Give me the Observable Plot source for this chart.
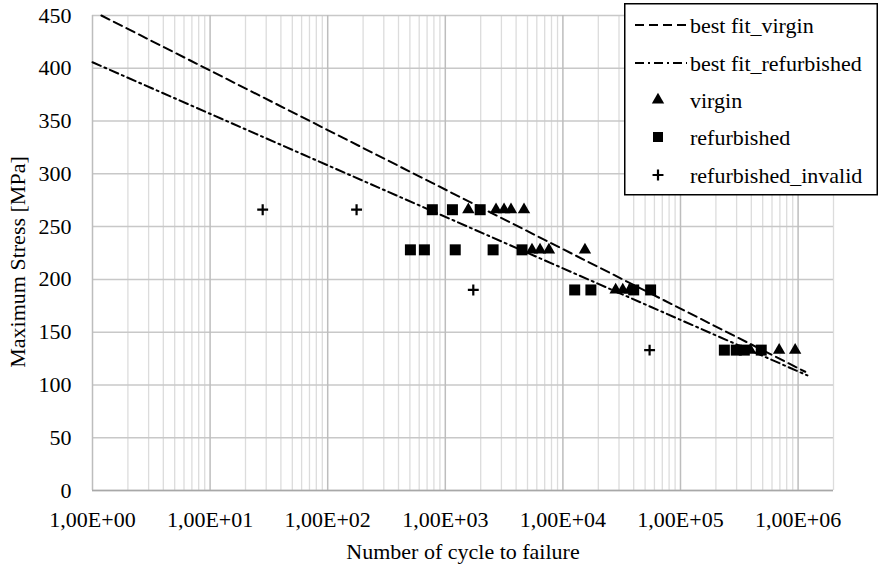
<!DOCTYPE html>
<html>
<head>
<meta charset="utf-8">
<script src="https://cdn.jsdelivr.net/npm/d3@7"></script>
<script src="https://cdn.jsdelivr.net/npm/@observablehq/plot@0.6"></script>
<style>
  html, body { margin: 0; padding: 0; background: white; }
  #wrap { position: relative; width: 878px; height: 564px; overflow: hidden; }
  #legend { position: absolute; left: 624px; top: 3px; }
</style>
</head>
<body>
<div id="wrap"></div>
<script>
// ---- data ----
const virginN = [1570, 2700, 3160, 3620, 4670, 5460, 6390, 7610, 15400, 28100, 32300, 37000, 392000, 690000, 944000];
const virginS = [266, 266, 266, 266, 266, 228, 228, 228, 228, 190, 190, 190, 133, 133, 133];

const refurbN = [776, 1150, 1980, 505, 664, 1215, 2550, 4490, 12600, 17300, 40000, 55700, 236000, 298000, 349000, 486000];
const refurbS = [266, 266, 266, 228, 228, 228, 228, 228, 190, 190, 190, 190, 133, 133, 133, 133];

const invalidN = [28, 176, 1730, 54600];
const invalidS = [266, 266, 190, 133];

// best-fit line endpoints
const fitVirginN = [1.19, 1150000];
const fitVirginS = [450, 112.5];
const fitRefurbN = [1, 1200000];
const fitRefurbS = [405.7, 109];

const xMajorTicks = [1, 10, 100, 1000, 10000, 100000, 1000000];
const xTickLabels = ["1,00E+00", "1,00E+01", "1,00E+02", "1,00E+03", "1,00E+04", "1,00E+05", "1,00E+06"];
const yTicks = [0, 50, 100, 150, 200, 250, 300, 350, 400, 450];

const seriesNames = ["best fit_virgin", "best fit_refurbished", "virgin", "refurbished", "refurbished_invalid"];

const FONT = "Liberation Serif";

// minor log gridlines
const xMinorTicks = [];
for (let k = 0; k <= 6; k++) for (let m = 2; m <= 9; m++) { const v = m * Math.pow(10, k); if (v <= 2e6) xMinorTicks.push(v); }

const zip = (xs, ys) => xs.map((x, i) => ({x, y: ys[i]}));
const virgin = zip(virginN, virginS);
const refurb = zip(refurbN, refurbS);
const invalid = zip(invalidN, invalidS);
const fitV = zip(fitVirginN, fitVirginS);
const fitR = zip(fitRefurbN, fitRefurbS);

const labelMap = new Map(xMajorTicks.map((t, i) => [t, xTickLabels[i]]));

const chart = Plot.plot({
  width: 878,
  height: 564,
  marginLeft: 92,
  marginRight: 45,
  marginTop: 15,
  marginBottom: 74,
  style: {fontFamily: FONT, fontSize: "22px", background: "white", color: "black"},
  x: {type: "log", domain: [1, 2e6], ticks: xMajorTicks, tickFormat: d => labelMap.get(d) ?? "", tickSize: 0, tickPadding: 21, label: null},
  y: {domain: [0, 450], ticks: yTicks, tickSize: 0, tickPadding: 21, label: null},
  marks: [
    Plot.ruleX(xMinorTicks, {stroke: "#dcdcdc", strokeWidth: 1.3}),
    Plot.ruleY(yTicks, {stroke: "#c8c8c8", strokeWidth: 1.5}),
    Plot.ruleX(xMajorTicks, {stroke: "#bdbdbd", strokeWidth: 1.5}),
    Plot.ruleY([0], {stroke: "#a8a8a8", strokeWidth: 1.5}),
    Plot.line(fitV, {x: "x", y: "y", stroke: "black", strokeWidth: 2, strokeDasharray: "9,5"}),
    Plot.line(fitR, {x: "x", y: "y", stroke: "black", strokeWidth: 2, strokeDasharray: "9,4,2,4"}),
    Plot.dot(refurb, {x: "x", y: "y", symbol: "square", r: 6.2, fill: "black", stroke: "none"}),
    Plot.dot(virgin, {x: "x", y: "y", symbol: "triangle", r: 4.6, fill: "black", stroke: "none"}),
    Plot.dot(invalid, {x: "x", y: "y", symbol: "plus", r: 3.6, fill: "none", stroke: "black", strokeWidth: 2.2}),
    Plot.text(["Number of cycle to failure"], {frameAnchor: "bottom", textAnchor: "middle", lineAnchor: "middle", dy: 61, fontSize: 22}),
    Plot.text(["Maximum Stress [MPa]"], {frameAnchor: "left", textAnchor: "middle", lineAnchor: "middle", dx: -75, dy: 9, rotate: -90, fontSize: 22})
  ]
});
chart.setAttribute("font-family", FONT);
chart.querySelectorAll("text").forEach(t => { t.setAttribute("font-family", FONT); });
document.getElementById("wrap").appendChild(chart);

// legend
const lg = d3.select("#wrap").append("svg")
  .attr("id", "legend").attr("width", 254).attr("height", 193).attr("font-family", FONT);
lg.append("rect").attr("x", 0.75).attr("y", 0.75).attr("width", 252.5).attr("height", 191)
  .attr("fill", "white").attr("stroke", "black").attr("stroke-width", 1.5);
const rowsY = [22, 60, 97, 134, 172];
lg.append("line").attr("x1", 11).attr("x2", 63).attr("y1", rowsY[0]).attr("y2", rowsY[0])
  .attr("stroke", "black").attr("stroke-width", 2).attr("stroke-dasharray", "9,5");
lg.append("line").attr("x1", 11).attr("x2", 63).attr("y1", rowsY[1]).attr("y2", rowsY[1])
  .attr("stroke", "black").attr("stroke-width", 2).attr("stroke-dasharray", "9,4,2,4");
lg.append("path").attr("d", d3.symbol(d3.symbolTriangle, 66)()).attr("transform", `translate(34,${rowsY[2]})`).attr("fill", "black");
lg.append("path").attr("d", d3.symbol(d3.symbolSquare, 100)()).attr("transform", `translate(34,${rowsY[3]})`).attr("fill", "black");
lg.append("path").attr("d", d3.symbol(d3.symbolPlus, 41)()).attr("transform", `translate(34,${rowsY[4]})`).attr("fill", "none").attr("stroke", "black").attr("stroke-width", 2.2);
seriesNames.forEach((name, i) => {
  lg.append("text").attr("x", 66).attr("y", rowsY[i]).attr("dy", "0.35em").attr("fill", "black")
    .attr("font-family", FONT).attr("font-size", 22).text(name);
});
</script>
</body>
</html>
